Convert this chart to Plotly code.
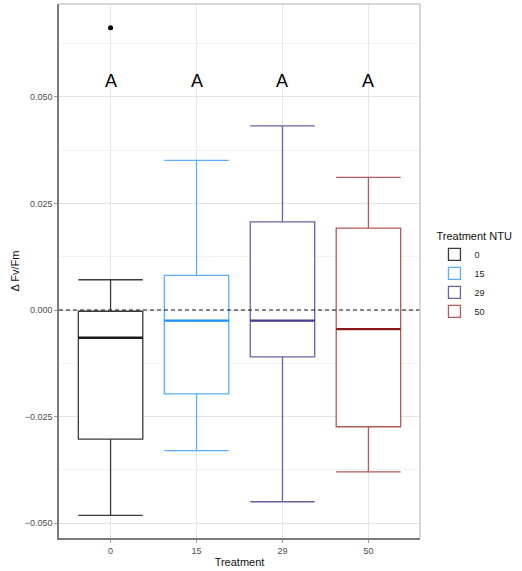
import plotly.graph_objects as go

# Change in Fv/Fm by turbidity treatment (NTU)
treatments = ["0", "15", "29", "50"]
q1 = [-0.0303, -0.0197, -0.0110, -0.0274]
medians = [-0.0065, -0.0025, -0.0025, -0.0045]
q3 = [-0.0003, 0.0081, 0.0207, 0.0192]
lower_whisker = [-0.0482, -0.0330, -0.0450, -0.0380]
upper_whisker = [0.0071, 0.0351, 0.0432, 0.0311]
outlier_group = ["0"]
outlier_values = [0.0662]
letters = ["A", "A", "A", "A"]
letter_y = 0.0537

colors = ["#1a1a1a", "#1E90FF", "#483D8B", "#8B1A1A"]
edge_colors = ["#3a3a3a", "#5aaeff", "#6a60a8", "#b25a5a"]

BOX_W = 0.75
pos = {t: i for i, t in enumerate(treatments)}

fig = go.Figure()

for i, t in enumerate(treatments):
    fig.add_trace(go.Box(
        x=[i], q1=[q1[i]], median=[medians[i]], q3=[q3[i]],
        lowerfence=[lower_whisker[i]], upperfence=[upper_whisker[i]],
        width=BOX_W, whiskerwidth=1,
        line=dict(color=edge_colors[i], width=1.3),
        fillcolor="white", boxpoints=False,
        name=t, legendgroup=t, showlegend=True,
        hoverinfo="skip",
    ))
    # heavier median bar, ggplot style
    fig.add_trace(go.Scatter(
        x=[i - BOX_W / 2, i + BOX_W / 2], y=[medians[i], medians[i]],
        mode="lines", line=dict(color=colors[i], width=2.4),
        legendgroup=t, showlegend=False, hoverinfo="skip",
    ))

fig.add_trace(go.Scatter(
    x=[pos[g] for g in outlier_group], y=outlier_values, mode="markers",
    marker=dict(color="black", size=5), showlegend=False, hoverinfo="skip",
))

for i, lab in enumerate(letters):
    fig.add_annotation(x=i, y=letter_y, text=lab, showarrow=False,
                       font=dict(size=18, color="black", family="Liberation Sans"))

fig.add_shape(type="line", xref="paper", x0=0, x1=1, yref="y", y0=0, y1=0,
              line=dict(color="#111111", width=1.2, dash="4px,3px"), layer="above")

# light panel border on top and right
fig.add_shape(type="line", xref="paper", yref="paper", x0=0, x1=1, y0=1, y1=1,
              line=dict(color="#c8c8c8", width=1.5))
fig.add_shape(type="line", xref="paper", yref="paper", x0=1, x1=1, y0=0, y1=1,
              line=dict(color="#c8c8c8", width=1.5))

fig.update_layout(
    width=522, height=571,
    margin=dict(l=59, r=102, t=4, b=33),
    paper_bgcolor="white", plot_bgcolor="white",
    font=dict(family="Liberation Sans", color="#222222"),
    legend=dict(
        title=dict(text="Treatment NTU", font=dict(size=11, color="#111111")),
        font=dict(size=9, color="#222222"),
        x=1.04, xanchor="left", y=0.585, yanchor="top",
        tracegroupgap=0, itemwidth=30,
    ),
    xaxis=dict(
        range=[-0.6, 3.6], tickmode="array",
        tickvals=list(range(len(treatments))), ticktext=treatments,
        showgrid=True, gridcolor="#e6e6e6", gridwidth=1,
        zeroline=False, showline=True, linecolor="#7a7a7a", linewidth=1.5,
        ticks="outside", ticklen=3, tickcolor="#999999",
        tickfont=dict(size=9, color="#4d4d4d"),
        title=dict(text="Treatment", font=dict(size=11, color="#111111"), standoff=4),
    ),
    yaxis=dict(
        range=[-0.0535, 0.0718], tick0=0, dtick=0.025, tickformat=".3f",
        showgrid=True, gridcolor="#e3e3e3", gridwidth=1,
        minor=dict(dtick=0.0125, tick0=0, showgrid=True, gridcolor="#f3f3f3", gridwidth=1),
        zeroline=False, showline=True, linecolor="#7a7a7a", linewidth=1.5,
        ticks="outside", ticklen=3, tickcolor="#999999",
        tickfont=dict(size=9, color="#4d4d4d"),
        title=dict(text="Δ Fv/Fm", font=dict(size=11, color="#111111"), standoff=3),
    ),
)

fig.write_html("out.html")
